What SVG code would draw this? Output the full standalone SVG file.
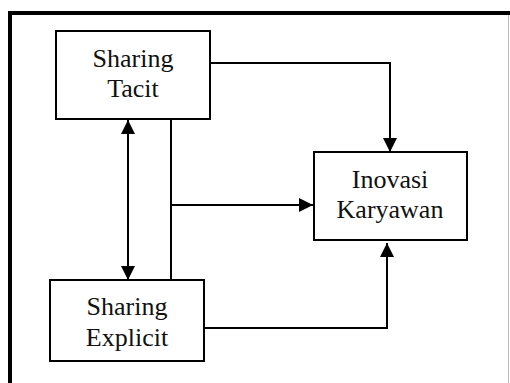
<svg xmlns="http://www.w3.org/2000/svg" width="510" height="383" viewBox="0 0 510 383">
<style>
.box{fill:#fff;stroke:#000;stroke-width:2}
.t{font-family:"Liberation Serif","Times New Roman",serif;font-size:26px;fill:#111;text-anchor:middle}
.ln{fill:none;stroke:#000;stroke-width:2}
</style>
<defs>
<marker id="ah" viewBox="0 0 14 14" refX="14" refY="7" markerWidth="14" markerHeight="14" markerUnits="userSpaceOnUse" orient="auto-start-reverse">
<path d="M0,0 L14,7 L0,14 Z" fill="#000"/>
</marker>
</defs>
<rect width="510" height="383" fill="#fff"/>
<g id="frame">
<line x1="508.5" y1="15" x2="508.5" y2="383" stroke="#bbb" stroke-width="1"/>
<line x1="8" y1="13" x2="510" y2="13" stroke="#000" stroke-width="4"/>
<line x1="10" y1="11" x2="10" y2="383" stroke="#000" stroke-width="4"/>
</g>
<g id="connectors">
<path class="ln" d="M210,63 H390 V152" marker-end="url(#ah)"/>
<path class="ln" d="M128,120 V280" marker-start="url(#ah)" marker-end="url(#ah)"/>
<path class="ln" d="M171,119 V280"/>
<path class="ln" d="M171,205 H313" marker-end="url(#ah)"/>
<path class="ln" d="M204,328 H387 V243" marker-end="url(#ah)"/>
</g>
<g id="sharing-tacit">
<rect class="box" x="56" y="31" width="154" height="88"/>
<text class="t" x="133" y="67">Sharing</text>
<text class="t" x="133" y="97">Tacit</text>
</g>
<g id="inovasi-karyawan">
<rect class="box" x="314" y="152" width="153" height="88"/>
<text class="t" x="390" y="188">Inovasi</text>
<text class="t" x="390" y="218">Karyawan</text>
</g>
<g id="sharing-explicit">
<rect class="box" x="50" y="280" width="154" height="81"/>
<text class="t" x="127" y="315">Sharing</text>
<text class="t" x="127" y="346">Explicit</text>
</g>
</svg>
